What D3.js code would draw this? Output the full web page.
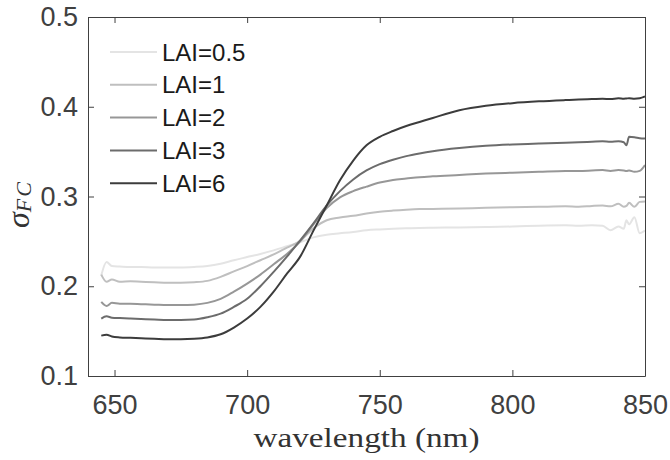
<!DOCTYPE html>
<html>
<head>
<meta charset="utf-8">
<script src="https://cdn.jsdelivr.net/npm/d3@7/dist/d3.min.js"></script>
<style>
  body { margin:0; background:#fff; }
  svg { display:block; }
</style>
</head>
<body>
<div id="chart"></div>
<script>
// wavelengths (nm), shared by all series
const WL = [645,647,649,652,656,660,665,670,675,680,685,690,695,700,705,710,715,720,725,730,
            735,740,745,750,755,760,765,770,780,790,800,810,820,825,830,834,837,840,842,843,844,846,848,850];

const LAI05 = [0.212,0.227,0.2225,0.222,0.2215,0.2215,0.221,0.221,0.221,0.2215,0.2225,0.225,0.229,0.2325,0.236,0.240,0.2445,0.249,0.2545,0.2575,
               0.259,0.2605,0.2624,0.2633,0.264,0.2645,0.265,0.2652,0.2655,0.266,0.2665,0.2675,0.268,0.2675,0.268,0.2675,0.2625,0.2665,0.264,0.2735,0.269,0.277,0.259,0.262];
const LAI1  = [0.213,0.205,0.2075,0.205,0.2055,0.205,0.2045,0.204,0.204,0.2045,0.206,0.2105,0.2165,0.2225,0.229,0.2355,0.243,0.2505,0.2645,0.2735,
               0.2765,0.2785,0.281,0.283,0.2843,0.2853,0.286,0.2862,0.2866,0.2875,0.288,0.2885,0.289,0.2885,0.2895,0.290,0.289,0.292,0.2885,0.2895,0.293,0.2885,0.294,0.2945];
const LAI2  = [0.1825,0.178,0.1815,0.1805,0.1805,0.180,0.1795,0.179,0.179,0.1795,0.1815,0.186,0.194,0.203,0.213,0.2245,0.236,0.250,0.269,0.287,
               0.299,0.306,0.311,0.3155,0.3185,0.320,0.3215,0.3225,0.324,0.3255,0.3265,0.3275,0.3285,0.3285,0.329,0.3295,0.3285,0.3295,0.329,0.3285,0.329,0.3275,0.3285,0.335];
const LAI3  = [0.164,0.1665,0.165,0.1645,0.164,0.1635,0.163,0.1625,0.1625,0.163,0.1655,0.1695,0.177,0.186,0.200,0.216,0.233,0.251,0.270,0.290,
               0.306,0.319,0.329,0.336,0.341,0.345,0.348,0.3505,0.354,0.3565,0.358,0.359,0.360,0.3605,0.361,0.3615,0.361,0.3615,0.3605,0.357,0.3665,0.366,0.365,0.3645];
const LAI6  = [0.145,0.146,0.144,0.143,0.1425,0.142,0.1415,0.141,0.141,0.1415,0.143,0.1465,0.154,0.164,0.177,0.194,0.214,0.233,0.262,0.290,
               0.318,0.340,0.357,0.3665,0.373,0.3785,0.383,0.3875,0.396,0.401,0.404,0.406,0.4074,0.408,0.4085,0.409,0.4085,0.4095,0.409,0.4092,0.4095,0.409,0.4095,0.4115];

const SERIES = [
  {label:"LAI=0.5", values:LAI05, color:"#e4e4e4"},
  {label:"LAI=1",   values:LAI1,  color:"#bfbfbf"},
  {label:"LAI=2",   values:LAI2,  color:"#979797"},
  {label:"LAI=3",   values:LAI3,  color:"#6c6c6c"},
  {label:"LAI=6",   values:LAI6,  color:"#3c3c3c"}
];
const X_TICKS = [650,700,750,800,850];
const Y_TICKS = [0.1,0.2,0.3,0.4,0.5];

const W = 670, H = 460;
const MG = {t:17, r:25, b:84, l:88};
const iW = W-MG.l-MG.r, iH = H-MG.t-MG.b;
const AX = "#404040";

const svg = d3.select("#chart").append("svg").attr("width",W).attr("height",H);
const g = svg.append("g").attr("transform",`translate(${MG.l},${MG.t})`);

const x = d3.scaleLinear().domain([640,850]).range([0,iW]);
const y = d3.scaleLinear().domain([0.1,0.5]).range([iH,0]);

svg.append("defs").append("clipPath").attr("id","clip")
  .append("rect").attr("width",iW).attr("height",iH);

// lines
const line = d3.line()
  .x((d,i)=>x(WL[i])).y(d=>y(d))
  .curve(d3.curveMonotoneX);

g.append("g").attr("clip-path","url(#clip)")
  .selectAll("path").data(SERIES).join("path")
  .attr("fill","none")
  .attr("stroke",d=>d.color)
  .attr("stroke-width",2)
  .attr("stroke-linejoin","round")
  .attr("d",d=>line(d.values));

// axes (box with inward ticks)
function styleAxis(sel){
  sel.selectAll("path.domain").attr("stroke",AX).attr("stroke-width",1);
  sel.selectAll(".tick line").attr("stroke",AX);
  sel.selectAll("text").attr("fill",AX)
    .attr("font-family","'Liberation Sans',Arial,sans-serif").attr("font-size",27);
}
g.append("g").attr("transform",`translate(0,${iH})`)
  .call(d3.axisBottom(x).tickValues(X_TICKS).tickSizeInner(-6).tickSizeOuter(0).tickPadding(19))
  .call(styleAxis);
g.append("g")
  .call(d3.axisTop(x).tickValues(X_TICKS).tickSizeInner(-6).tickSizeOuter(0).tickFormat(""))
  .call(styleAxis);
g.append("g")
  .call(d3.axisLeft(y).tickValues(Y_TICKS).tickFormat(d3.format(".1f")).tickSizeInner(-6).tickSizeOuter(0).tickPadding(10))
  .call(styleAxis);
g.append("g").attr("transform",`translate(${iW},0)`)
  .call(d3.axisRight(y).tickValues(Y_TICKS).tickSizeInner(-6).tickSizeOuter(0).tickFormat(""))
  .call(styleAxis);

// axis labels
svg.append("text")
  .attr("x",MG.l+iW/2).attr("y",447)
  .attr("text-anchor","middle")
  .attr("font-family","'Liberation Serif','Times New Roman',serif")
  .attr("font-size",28).attr("fill","#333")
  .attr("textLength",226).attr("lengthAdjust","spacingAndGlyphs")
  .text("wavelength (nm)");

const yl = svg.append("text")
  .attr("transform",`translate(29,204) rotate(-90)`)
  .attr("text-anchor","middle")
  .attr("font-family","'Liberation Serif','Times New Roman',serif")
  .attr("font-style","italic").attr("fill","#333");
yl.append("tspan").attr("font-size",32).text("σ");
yl.append("tspan").attr("font-size",22).attr("dy",2).attr("letter-spacing",2).text("FC");

// legend
const LEG = {x0:110, x1:157, y0:52, dy:32.8};
const lg = svg.append("g");
SERIES.forEach((s,i)=>{
  const yy = LEG.y0 + i*LEG.dy;
  lg.append("line").attr("x1",LEG.x0).attr("x2",LEG.x1).attr("y1",yy).attr("y2",yy)
    .attr("stroke",s.color).attr("stroke-width",2);
  lg.append("text").attr("x",LEG.x1+5).attr("y",yy).attr("dy","0.36em")
    .attr("font-family","'Liberation Sans',Arial,sans-serif").attr("font-size",24)
    .attr("fill","#1a1a1a").text(s.label);
});
</script>
</body>
</html>
